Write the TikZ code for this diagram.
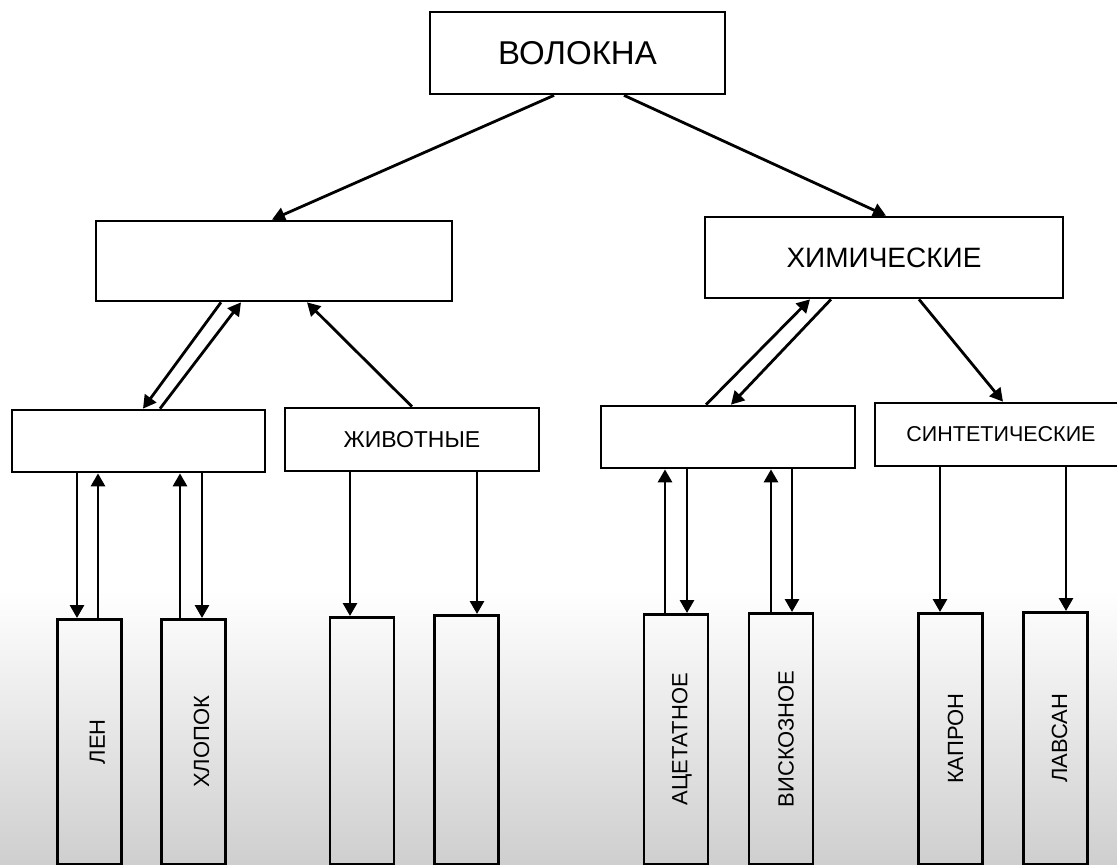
\documentclass[tikz,border=0pt]{standalone}
\usepackage{fontspec}
\usepackage{graphicx}
\setmainfont{Liberation Sans}
\usetikzlibrary{positioning,arrows.meta}

\newcommand{\uplabel}[2]{\rotatebox{90}{\raisebox{-#1pt}[\height][\depth]{#2}}}

\begin{document}
\begin{tikzpicture}[x=1pt, y=-1pt,
        block/.style={draw, rectangle, line width=2.7pt, inner sep=0pt, align=center},
        tall/.style={draw, rectangle, line width=2.7pt, inner sep=0pt, anchor=north,
            minimum width=64pt, minimum height=#1pt, font=\fontsize{22}{24}\selectfont},
        arr/.style={->, line width=2.8pt},
        >={Triangle[length=13pt, width=14pt]}
    ]
        % page
        \useasboundingbox (0,0) rectangle (1117,865);
        \fill[white] (0,0) rectangle (1117,865);
        \shade[top color=white, bottom color=black!19] (0,590) rectangle (1117,865);

        % Top
        \node [block, minimum width=295pt, minimum height=82pt, font=\fontsize{33}{35}\selectfont] (root) at (577.5,53) {ВОЛОКНА};

        % Second row
        \node [block, minimum width=356pt, minimum height=80pt] (natural) at (274,261) {};
        \node [block, minimum width=358pt, minimum height=81pt, font=\fontsize{28}{30}\selectfont] (chem) at (884,257.5) {ХИМИЧЕСКИЕ};

        % Third row
        \node [block, minimum width=253pt, minimum height=62pt] (plant) at (138.5,441) {};
        \node [block, minimum width=254pt, minimum height=63pt, font=\fontsize{23}{25}\selectfont] (animal) at (412,439.5) {ЖИВОТНЫЕ};
        \node [block, minimum width=254pt, minimum height=62pt] (artif) at (728,437) {};
        \node [block, minimum width=252pt, minimum height=63pt, font=\fontsize{21.5}{23}\selectfont] (synth) at (1001,434.5) {СИНТЕТИЧЕСКИЕ};

        % Bottom row
        \node [tall=245] (len) at (89.5,618) {\uplabel{8}{ЛЕН}};
        \node [tall=245] (cotton) at (193.5,618) {\uplabel{8}{ХЛОПОК}};
        \node [tall=247] (animA) at (362,616) {};
        \node [tall=249] (animB) at (466.5,614) {};
        \node [tall=250] (acet) at (676,613) {\uplabel{6}{АЦЕТАТНОЕ}};
        \node [tall=251] (visc) at (781,612) {\uplabel{5}{ВИСКОЗНОЕ}};
        \node [tall=251] (kapron) at (950.5,612) {\uplabel{5}{КАПРОН}};
        \node [tall=252] (lavsan) at (1055.5,611) {\uplabel{4}{ЛАВСАН}};

        % Connections, top
        \draw [arr] ([xshift=-23.5pt]root.south) -- ([xshift=-2pt]natural.north);
        \draw [arr] ([xshift=46.5pt]root.south) -- ([xshift=2pt]chem.north);

        % Connections, second to third row
        \draw [arr] ([xshift=-53pt]natural.south) -- ([xshift=4.5pt]plant.north);
        \draw [arr] ([xshift=21.5pt]plant.north) -- ([xshift=-33pt]natural.south);
        \draw [arr] (animal.north) -- ([xshift=33pt]natural.south);
        \draw [arr] ([xshift=-22pt]artif.north) -- ([xshift=-74pt]chem.south);
        \draw [arr] ([xshift=-53pt]chem.south) -- ([xshift=3pt]artif.north);
        \draw [arr] ([xshift=35pt]chem.south) -- ([xshift=2pt]synth.north);

        % Connections, third to bottom row
        \draw [arr] ([xshift=-12.5pt]len.north |- plant.south) -- ([xshift=-12.5pt]len.north);
        \draw [arr] ([xshift=8.5pt]len.north) -- ([xshift=8.5pt]len.north |- plant.south);
        \draw [arr] ([xshift=-13.5pt]cotton.north) -- ([xshift=-13.5pt]cotton.north |- plant.south);
        \draw [arr] ([xshift=8.5pt]cotton.north |- plant.south) -- ([xshift=8.5pt]cotton.north);
        \draw [arr] ([xshift=-12pt]animA.north |- animal.south) -- ([xshift=-12pt]animA.north);
        \draw [arr] ([xshift=10.5pt]animB.north |- animal.south) -- ([xshift=10.5pt]animB.north);
        \draw [arr] ([xshift=-11pt]acet.north) -- ([xshift=-11pt]acet.north |- artif.south);
        \draw [arr] ([xshift=11pt]acet.north |- artif.south) -- ([xshift=11pt]acet.north);
        \draw [arr] ([xshift=-10pt]visc.north) -- ([xshift=-10pt]visc.north |- artif.south);
        \draw [arr] ([xshift=11pt]visc.north |- artif.south) -- ([xshift=11pt]visc.north);
        \draw [arr] ([xshift=-10.5pt]kapron.north |- synth.south) -- ([xshift=-10.5pt]kapron.north);
        \draw [arr] ([xshift=10.5pt]lavsan.north |- synth.south) -- ([xshift=10.5pt]lavsan.north);
    \end{tikzpicture}
\end{document}
